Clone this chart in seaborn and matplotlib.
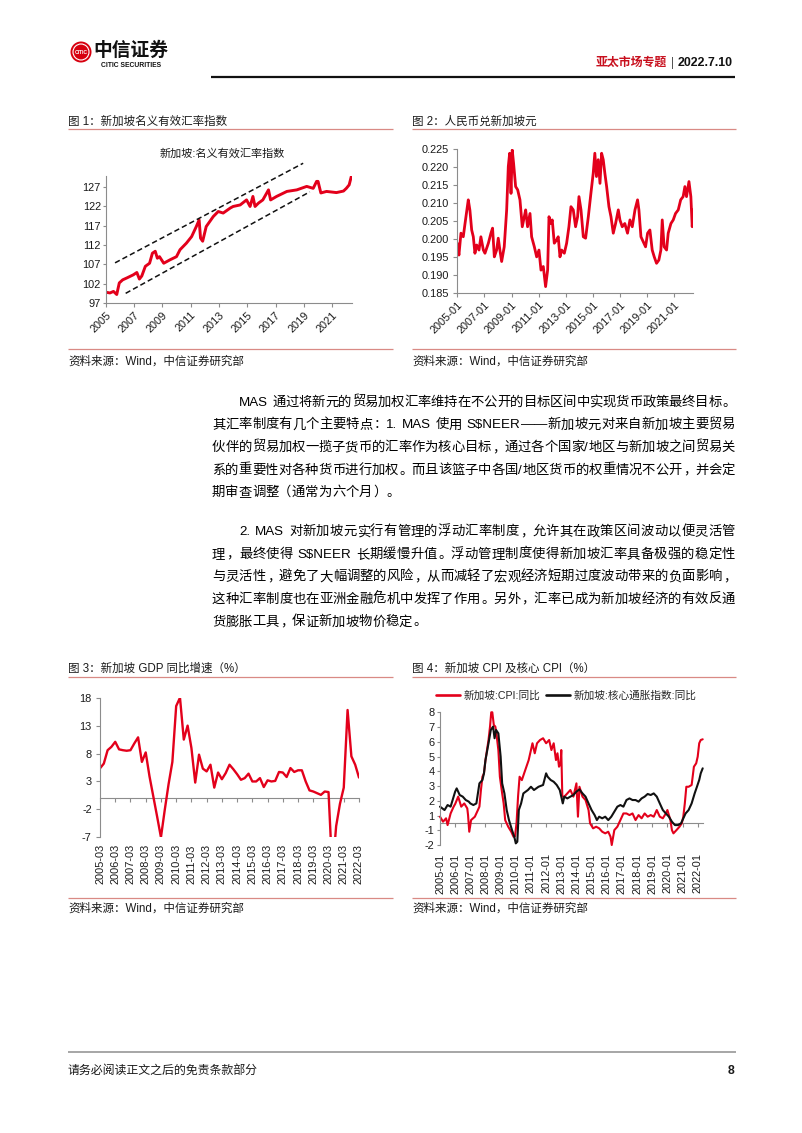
import numpy as np
import pandas as pd
import matplotlib
matplotlib.use("Agg")
import matplotlib.pyplot as plt
import seaborn as sns
from matplotlib.lines import Line2D
from matplotlib.patches import Ellipse

# ---------------- data ----------------
# Fig 1: Singapore NEER index
neer_year = [2005.00, 2005.30, 2005.55, 2005.78, 2005.96, 2006.20, 2006.50, 2006.95, 2007.20, 2007.38,
             2007.55, 2007.80, 2008.10, 2008.30, 2008.50, 2008.65, 2008.80, 2009.10, 2009.55, 2010.00,
             2010.25, 2010.70, 2011.07, 2011.40, 2011.60, 2011.70, 2011.85, 2012.10, 2012.60, 2012.95,
             2013.30, 2013.80, 2014.00, 2014.50, 2014.95, 2015.20, 2015.40, 2015.55, 2015.80, 2016.10,
             2016.50, 2016.65, 2017.07, 2017.80, 2018.50, 2019.20, 2019.66, 2019.90, 2020.00, 2020.20,
             2020.60, 2021.30, 2021.80, 2022.00, 2022.20, 2022.36]
neer_val = [99.8, 99.6, 100.0, 99.2, 102.2, 103.0, 103.5, 104.3, 104.9, 103.2,
            104.0, 106.5, 107.3, 109.9, 110.4, 108.6, 109.0, 107.3, 108.2, 109.0,
            110.8, 112.5, 114.2, 116.8, 118.5, 113.8, 113.0, 116.8, 119.4, 120.7,
            120.3, 121.6, 122.0, 122.4, 123.7, 122.0, 124.6, 122.0, 122.9, 123.7,
            126.3, 123.7, 124.6, 125.9, 126.3, 127.2, 126.7, 128.5, 128.5, 125.5,
            125.9, 125.6, 126.0, 126.7, 127.6, 129.9]
chan_up_year = [2005.66, 2018.95]
chan_up_val = [107.4, 133.2]
chan_lo_year = [2006.41, 2019.42]
chan_lo_val = [99.5, 125.8]
neer_xticks = [2005, 2007, 2009, 2011, 2013, 2015, 2017, 2019, 2021]
neer_yticks = [97, 102, 107, 112, 117, 122, 127]

# Fig 2: CNY / SGD
rmb_year = [2005.00, 2005.12, 2005.27, 2005.44, 2005.57, 2005.74, 2005.81, 2005.93, 2006.06, 2006.18,
            2006.30, 2006.43, 2006.60, 2006.74, 2006.92, 2007.04, 2007.29, 2007.48, 2007.60, 2007.73,
            2007.90, 2008.02, 2008.14, 2008.27, 2008.46, 2008.64, 2008.76, 2008.86, 2008.96, 2009.05,
            2009.15, 2009.30, 2009.45, 2009.62, 2009.79, 2009.94, 2010.04, 2010.18, 2010.36, 2010.48,
            2010.68, 2010.85, 2011.02, 2011.17, 2011.34, 2011.51, 2011.66, 2011.76, 2011.90, 2012.00,
            2012.15, 2012.32, 2012.44, 2012.57, 2012.69, 2012.89, 2013.06, 2013.23, 2013.38, 2013.55,
            2013.72, 2013.87, 2013.97, 2014.12, 2014.29, 2014.46, 2014.66, 2014.85, 2015.02, 2015.14,
            2015.26, 2015.39, 2015.52, 2015.64, 2015.76, 2015.88, 2016.01, 2016.18, 2016.33, 2016.50,
            2016.67, 2016.87, 2016.99, 2017.16, 2017.35, 2017.55, 2017.73, 2017.90, 2018.10, 2018.29,
            2018.39, 2018.54, 2018.71, 2018.88, 2019.03, 2019.20, 2019.37, 2019.52, 2019.69, 2019.86,
            2020.01, 2020.11, 2020.25, 2020.43, 2020.55, 2020.75, 2020.92, 2021.09, 2021.29, 2021.47,
            2021.65, 2021.78, 2021.90, 2022.08, 2022.22, 2022.32, 2022.40]
rmb_val = [0.1988, 0.1955, 0.2016, 0.2006, 0.2043, 0.2090, 0.2109, 0.2080, 0.2025, 0.2006,
           0.1960, 0.1983, 0.1969, 0.2006, 0.1969, 0.1960, 0.1988, 0.2016, 0.2030, 0.1950,
           0.1969, 0.2002, 0.1969, 0.1937, 0.1978, 0.2081, 0.2202, 0.2239, 0.2127, 0.2248,
           0.2211, 0.2146, 0.2137, 0.2109, 0.2034, 0.2062, 0.2081, 0.2034, 0.2071, 0.2006,
           0.1978, 0.1950, 0.1969, 0.1913, 0.1923, 0.1867, 0.1913, 0.2062, 0.2043, 0.2053,
           0.1988, 0.1997, 0.2006, 0.1950, 0.1969, 0.1960, 0.1988, 0.2034, 0.2090, 0.2081,
           0.2034, 0.2062, 0.2118, 0.2081, 0.2006, 0.2002, 0.2062, 0.2127, 0.2183, 0.2239,
           0.2174, 0.2221, 0.2155, 0.2239, 0.2221, 0.2183, 0.2146, 0.2090, 0.2062, 0.2016,
           0.2043, 0.2081, 0.2053, 0.2034, 0.2043, 0.2016, 0.2053, 0.2034, 0.2081, 0.2109,
           0.2081, 0.2006, 0.1992, 0.1978, 0.2016, 0.2025, 0.1969, 0.1950, 0.1932, 0.1941,
           0.1969, 0.2053, 0.1978, 0.1969, 0.2016, 0.2043, 0.2053, 0.2071, 0.2081, 0.2109,
           0.2118, 0.2146, 0.2118, 0.2160, 0.2118, 0.2034, 0.2081]
rmb_xticks = [2005, 2007, 2009, 2011, 2013, 2015, 2017, 2019, 2021]
rmb_xlabels = ["2005-01", "2007-01", "2009-01", "2011-01", "2013-01", "2015-01", "2017-01", "2019-01", "2021-01"]
rmb_yticks = [0.185, 0.190, 0.195, 0.200, 0.205, 0.210, 0.215, 0.220, 0.225]

# Fig 3: Singapore GDP yoy, quarterly 2005Q1..2022Q1
gdp_val = [5.35, 6.2, 8.6, 9.2,
           10.1, 8.75, 8.6, 8.5,
           8.6, 9.8, 10.9, 6.5,
           8.2, 3.9, 0.3, -3.3,
           -7.0, -2.1, 2.5, 6.5,
           16.5, 18.0, 10.5, 13.0,
           9.0, 2.8, 7.8, 5.3,
           4.8, 6.0, 1.9, 4.6,
           3.4, 4.5, 6.0, 5.2,
           4.3, 3.3, 3.6, 4.4,
           3.0, 3.0, 3.6, 2.0,
           3.2, 3.0, 3.1, 4.7,
           4.6, 3.8, 5.4, 4.7,
           5.0, 5.0, 3.0, 1.4,
           1.2, 0.9, 0.6, 1.2,
           1.1, -13.3, -5.0, -1.0,
           1.9, 15.8, 7.5, 6.0,
           3.7]
gdp_xlabels = ["2005-03", "2006-03", "2007-03", "2008-03", "2009-03", "2010-03", "2011-03", "2012-03",
               "2013-03", "2014-03", "2015-03", "2016-03", "2017-03", "2018-03", "2019-03", "2020-03",
               "2021-03", "2022-03"]
gdp_yticks = [18, 13, 8, 3, -2, -7]

# Fig 4: CPI and core CPI (values on the chart's own tick scale)
cpi_year = [2005.00, 2005.20, 2005.40, 2005.50, 2005.70, 2005.90, 2006.00, 2006.20, 2006.40, 2006.60,
            2006.80, 2006.85, 2006.93, 2007.05, 2007.30, 2007.50, 2007.60, 2007.70, 2007.80, 2007.90,
            2008.00, 2008.10, 2008.20, 2008.30, 2008.38, 2008.45, 2008.55, 2008.65, 2008.72, 2008.85,
            2008.95, 2009.10, 2009.20, 2009.30, 2009.50, 2009.70, 2009.85, 2009.95, 2010.05, 2010.15,
            2010.25, 2010.40, 2010.55, 2010.70, 2010.85, 2011.00, 2011.10, 2011.25, 2011.40, 2011.60,
            2011.80, 2012.00, 2012.20, 2012.35, 2012.50, 2012.65, 2012.75, 2012.85, 2012.95, 2013.00,
            2013.07, 2013.20, 2013.40, 2013.60, 2013.80, 2014.00, 2014.10, 2014.20, 2014.40, 2014.60,
            2014.80, 2014.90, 2015.10, 2015.30, 2015.50, 2015.70, 2015.90, 2016.10, 2016.25, 2016.33,
            2016.50, 2016.70, 2016.90, 2017.10, 2017.30, 2017.50, 2017.70, 2017.90, 2018.10, 2018.30,
            2018.50, 2018.70, 2018.90, 2019.10, 2019.30, 2019.50, 2019.70, 2019.90, 2020.00, 2020.20,
            2020.30, 2020.40, 2020.60, 2020.80, 2020.95, 2021.05, 2021.15, 2021.25, 2021.40, 2021.60,
            2021.75, 2021.90, 2022.00, 2022.10, 2022.20, 2022.33]
cpi_val = [0.92, 0.58, 0.81, 0.35, 1.14, 1.60, 1.78, 2.28, 1.60, 1.82,
           1.48, 1.03, -0.10, 0.69, 0.92, 1.37, 1.60, 2.73, 3.63, 3.86,
           4.76, 5.44, 6.12, 7.03, 8.00, 8.00, 7.14, 7.03, 6.57, 5.44,
           3.63, 2.50, 1.82, 0.69, 0.24, -0.10, -0.44, -0.40, 0.50, 2.30,
           3.63, 3.40, 3.86, 4.31, 4.76, 5.44, 5.90, 5.22, 5.90, 6.12,
           6.24, 5.90, 6.12, 5.44, 5.90, 4.76, 5.22, 4.31, 4.50, 5.44,
           2.28, 2.28, 2.50, 2.73, 2.28, 3.18, 0.92, 2.95, 2.28, 2.05,
           1.37, 0.47, 0.13, 0.24, 0.13, -0.10, -0.21, -0.10, -0.44, -1.00,
           0.01, 0.24, 0.69, 1.14, 1.14, 1.03, 1.14, 0.69, 1.03, 0.81,
           1.14, 0.92, 1.03, 0.92, 1.37, 0.92, 0.81, 1.14, 1.37, 0.69,
           0.01, -0.21, 0.01, 0.24, 0.47, 0.92, 1.82, 2.95, 2.95, 3.07,
           4.31, 4.54, 4.99, 5.90, 6.12, 6.17]
core_year = [2005.00, 2005.30, 2005.50, 2005.70, 2005.90, 2006.00, 2006.10, 2006.30, 2006.50, 2006.70,
             2006.90, 2007.00, 2007.20, 2007.40, 2007.60, 2007.80, 2007.90, 2008.00, 2008.20, 2008.35,
             2008.50, 2008.60, 2008.70, 2008.85, 2009.00, 2009.10, 2009.25, 2009.40, 2009.55, 2009.75,
             2009.90, 2010.00, 2010.10, 2010.20, 2010.35, 2010.50, 2010.80, 2011.00, 2011.20, 2011.50,
             2011.80, 2012.00, 2012.10, 2012.30, 2012.50, 2012.70, 2012.90, 2013.00, 2013.10, 2013.20,
             2013.40, 2013.60, 2013.80, 2014.00, 2014.20, 2014.40, 2014.60, 2014.80, 2015.00, 2015.20,
             2015.35, 2015.50, 2015.70, 2015.90, 2016.10, 2016.30, 2016.50, 2016.70, 2016.90, 2017.10,
             2017.30, 2017.50, 2017.70, 2017.90, 2018.10, 2018.30, 2018.50, 2018.70, 2018.90, 2019.10,
             2019.30, 2019.50, 2019.70, 2019.90, 2020.10, 2020.30, 2020.50, 2020.70, 2020.90, 2021.00,
             2021.20, 2021.40, 2021.60, 2021.80, 2021.95, 2022.10, 2022.20, 2022.33]
core_val = [1.60, 1.37, 1.71, 1.60, 2.28, 2.62, 2.84, 2.39, 2.28, 2.05,
            1.94, 1.82, 1.71, 1.82, 3.18, 3.41, 3.86, 4.76, 5.90, 6.80,
            7.03, 6.24, 6.80, 6.57, 5.00, 3.18, 2.50, 1.37, 0.69, 0.01,
            -0.44, -0.89, -0.78, 1.37, 1.82, 2.50, 2.73, 2.95, 2.73, 2.95,
            3.07, 3.86, 3.63, 3.41, 3.29, 3.07, 2.73, 2.28, 1.82, 2.28,
            2.16, 2.28, 2.39, 2.62, 2.77, 2.50, 2.28, 1.82, 1.37, 1.03,
            0.69, 0.92, 0.81, 0.92, 0.69, 0.92, 1.26, 1.60, 1.71, 1.60,
            2.05, 2.16, 2.05, 2.05, 1.94, 2.16, 2.28, 2.46, 2.39, 2.50,
            2.28, 1.82, 1.37, 1.14, 0.92, 0.58, 0.35, 0.35, 0.47, 0.69,
            1.14, 1.37, 1.82, 2.50, 2.95, 3.41, 3.86, 4.20]
cpi_xticks = list(range(2005, 2023))
cpi_xlabels = [f"{y}-01" for y in cpi_xticks]
cpi_ytick_pos = [8, 7, 6, 5, 4, 3, 2, 1, 0, -1]
cpi_ytick_labels = ["8", "7", "6", "5", "4", "3", "2", "1", "-1", "-2"]
cpi_axis_line = 0.5

# body text
para1 = ["MAS 通过将新元的贸易加权汇率维持在不公开的目标区间中实现货币政策最终目标。",
         "其汇率制度有几个主要特点：1. MAS 使用 S$NEER——新加坡元对来自新加坡主要贸易",
         "伙伴的贸易加权一揽子货币的汇率作为核心目标，通过各个国家/地区与新加坡之间贸易关",
         "系的重要性对各种货币进行加权。而且该篮子中各国/地区货币的权重情况不公开，并会定",
         "期审查调整（通常为六个月）。"]
para2 = ["2. MAS 对新加坡元实行有管理的浮动汇率制度，允许其在政策区间波动以便灵活管",
         "理，最终使得 S$NEER 长期缓慢升值。浮动管理制度使得新加坡汇率具备极强的稳定性",
         "与灵活性，避免了大幅调整的风险，从而减轻了宏观经济短期过度波动带来的负面影响，",
         "这种汇率制度也在亚洲金融危机中发挥了作用。另外，汇率已成为新加坡经济的有效反通",
         "货膨胀工具，保证新加坡物价稳定。"]

# ---------------- style ----------------
sns.set_theme(style="white")
FAM = ["Liberation Sans", "Noto Sans CJK SC", "DejaVu Sans"]
plt.rcParams["font.family"] = FAM
plt.rcParams["axes.unicode_minus"] = False

RED = "#E3001B"
RULE = "#D98A85"
GRAY = "#8C8C8C"
TXT = "#1a1a1a"

W, H = 802, 1133
fig = plt.figure(figsize=(W / 100, H / 100), dpi=100)
fig.patch.set_facecolor("white")


def fx(x):
    return x / W


def fy(y):
    return 1 - y / H


def rect(x0, y0, x1, y1):
    return [x0 / W, 1 - y1 / H, (x1 - x0) / W, (y1 - y0) / H]


def hline(x0, x1, y, color, lw):
    fig.add_artist(Line2D([fx(x0), fx(x1)], [fy(y), fy(y)], transform=fig.transFigure,
                          color=color, lw=lw, solid_capstyle="butt"))


def ftext(x, y, s, **kw):
    kw.setdefault("color", TXT)
    kw.setdefault("va", "center")
    kw.setdefault("family", FAM)
    return fig.text(fx(x), fy(y), s, parse_math=False, **kw)


def style_ax(ax, bottom=True):
    for s in ["top", "right"]:
        ax.spines[s].set_visible(False)
    ax.spines["left"].set_color(GRAY)
    ax.spines["left"].set_linewidth(0.8)
    ax.spines["bottom"].set_visible(bottom)
    ax.spines["bottom"].set_color(GRAY)
    ax.spines["bottom"].set_linewidth(0.8)
    ax.tick_params(axis="both", direction="out", length=3, width=0.8, color=GRAY,
                   labelsize=7.9, labelcolor=TXT, pad=2, left=True, bottom=True)
    ax.set_xlabel("")
    ax.set_ylabel("")
    ax.grid(False)
    ax.set_facecolor("none")


# ---------------- header / footer ----------------
fig.add_artist(Ellipse((fx(81), fy(52)), 21 / W, 21 / H, transform=fig.transFigure,
                       fc="#D7000F", ec="none"))
fig.add_artist(Ellipse((fx(81), fy(52)), 16 / W, 16 / H, transform=fig.transFigure,
                       fc="none", ec="white", lw=0.8))
ftext(81, 52.5, "CITIC", ha="center", fontsize=3.6, color="white", weight="bold")
ftext(93, 51, "中信证券", ha="left", fontsize=13.5, weight="bold", color="#111111")
ftext(101, 65.5, "CITIC SECURITIES", ha="left", fontsize=4.9, weight="bold", color="#111111")
ftext(667, 63, "亚太市场专题", ha="right", fontsize=8.6, weight="bold", color="#C8101E")
ftext(673, 63, "|", ha="center", fontsize=8.6, color="#555555")
ftext(733, 63, "2022.7.10", ha="right", fontsize=8.9, weight="bold", color="#111111")
hline(211.5, 734.5, 76.5, "#111111", 1.6)

hline(68, 736, 1052, "#A6A6A6", 1.4)
ftext(68, 1071, "请务必阅读正文之后的免责条款部分", ha="left", fontsize=8.6)
ftext(734, 1071, "8", ha="right", fontsize=8.8, weight="bold")

# ---------------- captions and rules ----------------
CAP_FS = 8.3
ftext(68, 122, "图 1：新加坡名义有效汇率指数", ha="left", fontsize=CAP_FS)
ftext(412, 122, "图 2：人民币兑新加坡元", ha="left", fontsize=CAP_FS)
hline(68, 393, 129.3, RULE, 0.9)
hline(412, 736, 129.3, RULE, 0.9)
hline(68, 393, 349.3, RULE, 0.9)
hline(412, 736, 349.3, RULE, 0.9)
ftext(68, 362, "资料来源：Wind，中信证券研究部", ha="left", fontsize=CAP_FS)
ftext(412, 362, "资料来源：Wind，中信证券研究部", ha="left", fontsize=CAP_FS)

ftext(68, 668.5, "图 3：新加坡 GDP 同比增速（%）", ha="left", fontsize=CAP_FS)
ftext(412, 668.5, "图 4：新加坡 CPI 及核心 CPI（%）", ha="left", fontsize=CAP_FS)
hline(68, 393, 676.7, RULE, 0.9)
hline(412, 736, 676.7, RULE, 0.9)
hline(68, 393, 898.3, RULE, 0.9)
hline(412, 736, 898.3, RULE, 0.9)
ftext(68, 909, "资料来源：Wind，中信证券研究部", ha="left", fontsize=CAP_FS)
ftext(412, 909, "资料来源：Wind，中信证券研究部", ha="left", fontsize=CAP_FS)

# ---------------- chart 1 ----------------
ax1 = fig.add_axes(rect(105.7, 175.6, 352, 303))
df1 = pd.DataFrame({"year": neer_year, "val": neer_val})
sns.lineplot(data=df1, x="year", y="val", ax=ax1, color=RED, lw=2.1, legend=False)
ax1.plot(chan_up_year, chan_up_val, color="#111111", lw=1.1, dashes=(3.5, 2), clip_on=False)
ax1.plot(chan_lo_year, chan_lo_val, color="#111111", lw=1.1, dashes=(3.5, 2), clip_on=False)
ax1.set_xlim(2005, 2022.4)
ax1.set_ylim(97, 130)
style_ax(ax1)
ax1.set_yticks(neer_yticks)
ax1.set_xticks(neer_xticks)
ax1.set_xticklabels([str(t) for t in neer_xticks], rotation=45, ha="right", rotation_mode="anchor")
ax1.tick_params(axis="y", length=2, pad=1.5)
ax1.tick_params(axis="x", length=3, pad=2)
ftext(222, 153, "新加坡:名义有效汇率指数", ha="center", fontsize=8)

# ---------------- chart 2 ----------------
ax2 = fig.add_axes(rect(457.3, 149.3, 693.3, 292.7))
df2 = pd.DataFrame({"year": rmb_year, "val": rmb_val})
sns.lineplot(data=df2, x="year", y="val", ax=ax2, color=RED, lw=2.0, legend=False)
ax2.set_xlim(2005, 2022.4)
ax2.set_ylim(0.185, 0.225)
style_ax(ax2)
ax2.set_yticks(rmb_yticks)
ax2.set_yticklabels([f"{v:.3f}" for v in rmb_yticks])
ax2.set_xticks(rmb_xticks)
ax2.set_xticklabels(rmb_xlabels, rotation=45, ha="right", rotation_mode="anchor")
ax2.tick_params(axis="y", length=3, pad=3)

# ---------------- chart 3 ----------------
ax3 = fig.add_axes(rect(100, 697.7, 359, 837.3))
df3 = pd.DataFrame({"q": np.arange(len(gdp_val)), "val": gdp_val})
sns.lineplot(data=df3, x="q", y="val", ax=ax3, color=RED, lw=1.7, legend=False)
ax3.set_xlim(0, len(gdp_val) - 1)
ax3.set_ylim(-7, 18)
style_ax(ax3, bottom=False)
ax3.set_yticks(gdp_yticks)
gdp_tick_pos = list(range(0, len(gdp_val), 4))
ax3.set_xticks(gdp_tick_pos)
ax3.set_xticklabels(gdp_xlabels, rotation=90, ha="center", va="top")
ax3.tick_params(axis="x", length=0, pad=5)
ax3.tick_params(axis="y", length=3, pad=3)
sec3 = ax3.secondary_xaxis((0 - (-7)) / 25)
sec3.set_ticks(gdp_tick_pos)
sec3.tick_params(axis="x", direction="out", length=3, width=0.8, color=GRAY,
                 labelbottom=False, labeltop=False)
for s in sec3.spines.values():
    s.set_color(GRAY)
    s.set_linewidth(0.8)

# ---------------- chart 4 ----------------
ax4 = fig.add_axes(rect(440, 712.3, 702.7, 845))
df4a = pd.DataFrame({"year": cpi_year, "val": cpi_val})
df4b = pd.DataFrame({"year": core_year, "val": core_val})
sns.lineplot(data=df4a, x="year", y="val", ax=ax4, color=RED, lw=1.5, label="新加坡:CPI:同比")
sns.lineplot(data=df4b, x="year", y="val", ax=ax4, color="#111111", lw=1.5, label="新加坡:核心通胀指数:同比")
for ln in ax4.get_lines():
    ln.set_clip_on(False)
ax4.set_xlim(2005, 2022.33)
ax4.set_ylim(-1, 8)
style_ax(ax4, bottom=False)
ax4.set_yticks(cpi_ytick_pos)
ax4.set_yticklabels(cpi_ytick_labels)
ax4.set_xticks(cpi_xticks)
ax4.set_xticklabels(cpi_xlabels, rotation=90, ha="center", va="top")
ax4.tick_params(axis="x", length=0, pad=6)
ax4.tick_params(axis="y", length=2, pad=2)
sec4 = ax4.secondary_xaxis((cpi_axis_line - (-1)) / 9)
sec4.set_ticks(cpi_xticks)
sec4.tick_params(axis="x", direction="out", length=3, width=0.8, color=GRAY,
                 labelbottom=False, labeltop=False)
for s in sec4.spines.values():
    s.set_color(GRAY)
    s.set_linewidth(0.8)
leg = ax4.legend(loc="center left", bbox_to_anchor=(-0.016, 1 + (712.3 - 695.7) / 132.7),
                 ncol=2, frameon=False, handlelength=2.3, handletextpad=0.3,
                 columnspacing=0.5, borderpad=0, borderaxespad=0,
                 prop={"family": FAM, "size": 7.7})
for lh in leg.get_lines():
    lh.set_linewidth(1.9)

# ---------------- body text (justified) ----------------
BODY_FS = 9.6
EM = BODY_FS * 100 / 72.0
BODY_W = "medium"
renderer = fig.canvas.get_renderer()


def tokenize(s):
    out, cur = [], ""
    for ch in s:
        if ch.isascii() and (ch.isalnum() or ch in ".$"):
            cur += ch
        else:
            if cur:
                out.append(cur)
                cur = ""
            out.append(ch)
    if cur:
        out.append(cur)
    return out


def ascii_width(s):
    t = fig.text(0, 0, s, fontsize=BODY_FS, family=FAM, weight=BODY_W, parse_math=False)
    w = t.get_window_extent(renderer).width
    t.remove()
    return w


SPACE_W = 0.28 * EM
PUNCT_L = set("，。：、；）")


def put(x, y, tk, ha):
    fig.text(fx(x), fy(y), tk, fontsize=BODY_FS, family=FAM, weight=BODY_W, color="#000000",
             ha=ha, va="baseline", parse_math=False)


def draw_line(s, x0, x1, cy, justify):
    toks = tokenize(s)
    widths = []
    for tk in toks:
        if tk == " ":
            widths.append(SPACE_W)
        elif tk.isascii():
            widths.append(ascii_width(tk) + 0.06 * EM)
        else:
            widths.append(EM)
    gap = 0.0
    if justify and len(toks) > 1:
        gap = (x1 - x0 - sum(widths)) / (len(toks) - 1)
    base = cy + 0.38 * EM
    x = x0
    for tk, w in zip(toks, widths):
        if tk != " ":
            if tk.isascii():
                put(x, base, tk, "left")
            elif tk in PUNCT_L:
                put(x + 0.08 * EM, base, tk, "left")
            elif tk == "（":
                put(x + w - 0.08 * EM, base, tk, "right")
            else:
                put(x + w / 2, base, tk, "center")
        x += w + gap


LEFT, INDENT, RIGHT = 212, 239, 735
LH = 22.6
for i, line in enumerate(para1):
    draw_line(line, INDENT if i == 0 else LEFT, RIGHT, 400.7 + i * LH, i < len(para1) - 1)
for i, line in enumerate(para2):
    draw_line(line, INDENT if i == 0 else LEFT, RIGHT, 530.0 + i * LH, i < len(para2) - 1)

fig.savefig("out.png", dpi=100, facecolor="white")
